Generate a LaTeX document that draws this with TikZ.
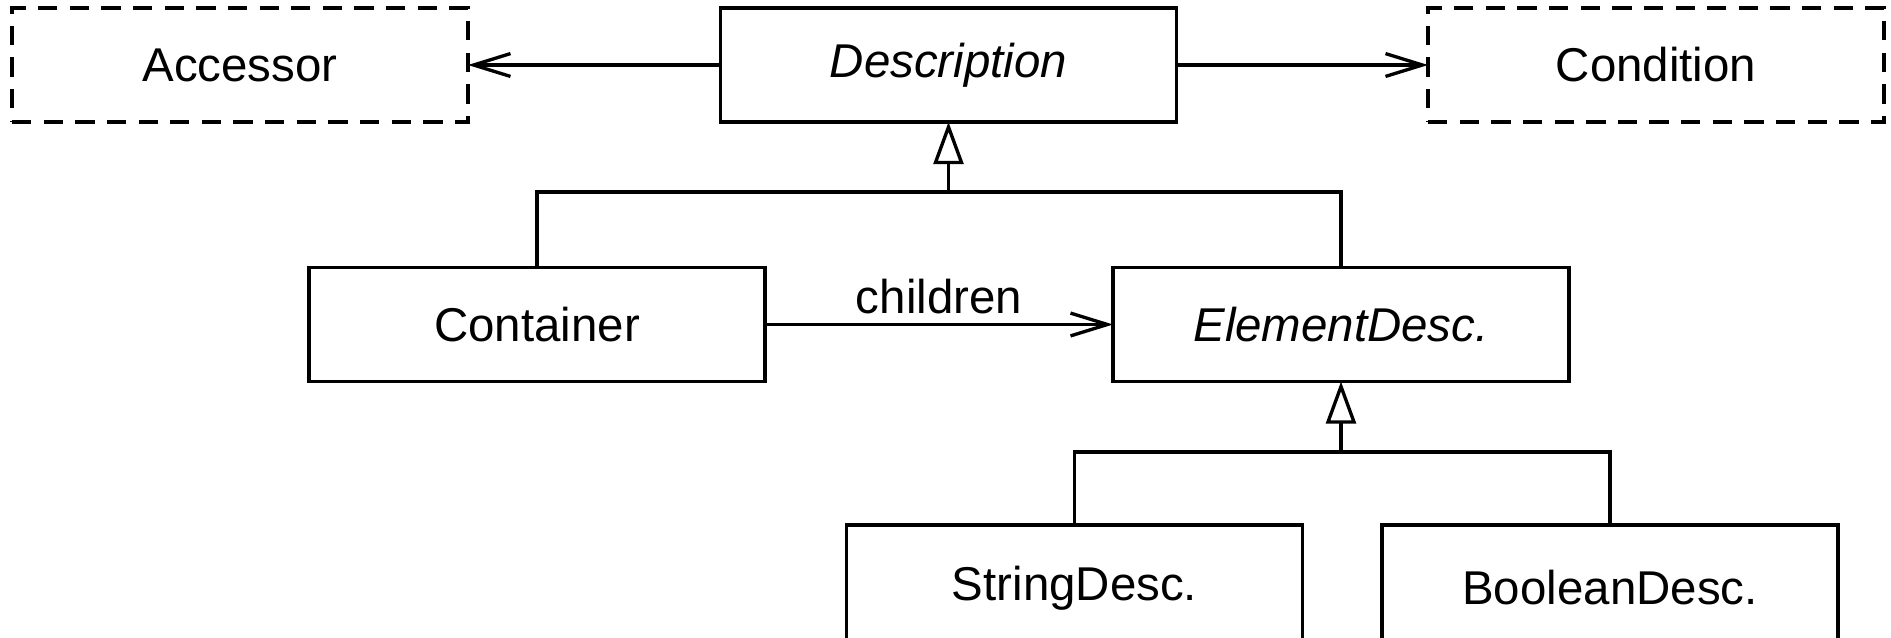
\documentclass[tikz,border=0pt]{standalone}
\usepackage{fontspec}
\setmainfont{Liberation Sans}
\usetikzlibrary{arrows.meta}
\begin{document}
\begin{tikzpicture}[x=0.02cm,y=-0.02cm,
  font=\fontsize{27}{32}\selectfont,
  every path/.style={line width=1.9pt},
  cls/.style={draw, line width=1.9pt, inner sep=0pt, outer sep=0pt,
    minimum width=9.12cm, minimum height=2.28cm},
  dcls/.style={cls, dash pattern=on 11pt off 7pt},
  assoc/.style={-{Straight Barb[length=21pt,width=13pt,line width=1.9pt]}},
  inh/.style={-{Triangle[open,length=24pt,width=17pt,line width=1.9pt]}}
]
\path[use as bounding box] (0,0) rectangle (1891,637);
\node[dcls] (acc) at (240,65) {Accessor};
\node[cls] (desc) at (948.5,65) {\itshape Description};
\node[dcls] (cond) at (1656,65) {Condition};
\node[cls] (cont) at (537,324.5) {Container};
\node[cls] (elem) at (1341,324.5) {\itshape ElementDesc.};
\node[cls, minimum height=2.4cm] (str) at (1074.5,585) {};
\node at (1074.5,588) {StringDesc.};
\node[cls, minimum height=2.4cm] (bool) at (1610,585) {};
\node at (1610,588) {BooleanDesc.};
\coordinate (j1) at (948.5,192);
\coordinate (j2) at (1341,452);
\draw[assoc] (desc.west) -- (acc.east);
\draw[assoc] (desc.east) -- (cond.west);
\draw[assoc] (cont.east) -- node[above=2pt] (lbl) {children} (elem.west);
\draw (cont.north) |- (j1) -| (elem.north);
\draw[inh] (j1) -- (desc.south);
\draw (str.north) |- (j2) -| (bool.north);
\draw[inh] (j2) -- (elem.south);
\end{tikzpicture}
\end{document}
